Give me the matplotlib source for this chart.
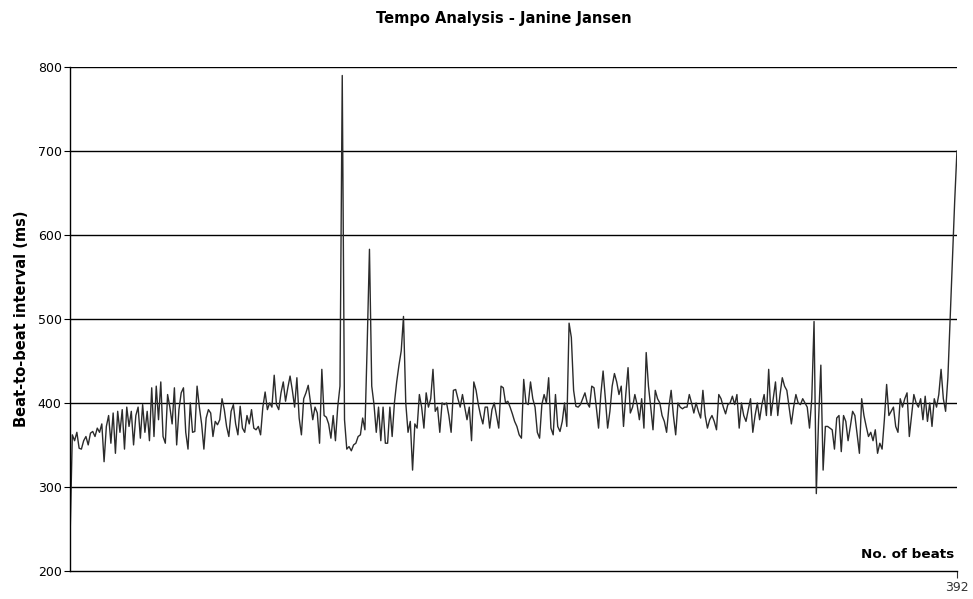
import matplotlib.pyplot as plt

# beat-to-beat intervals (ms), one value per beat
intervals = [
    240, 362, 355, 365, 346, 345, 355, 360, 350, 364, 366, 360, 370, 365, 375, 330, 372, 385, 352, 388,
    340, 390, 365, 392, 345, 395, 372, 390, 350, 385, 395, 358, 398, 365, 390, 355, 418, 360, 420, 380,
    425, 360, 352, 410, 395, 375, 418, 350, 392, 412, 418, 365, 345, 400, 365, 366, 420, 395, 375, 345,
    382, 392, 388, 360, 378, 374, 380, 405, 392, 372, 360, 390, 398, 375, 362, 396, 370, 365, 385, 375,
    392, 370, 368, 372, 362, 395, 413, 392, 400, 395, 433, 398, 392, 412, 425, 402, 418, 432, 415, 395,
    430, 382, 362, 405, 412, 421, 400, 380, 395, 388, 352, 440, 385, 383, 375, 358, 385, 355, 395, 420,
    790, 380, 345, 348, 343, 350, 352, 360, 362, 382, 368, 470, 583, 420, 398, 365, 395, 355, 395, 352,
    352, 395, 360, 400, 425, 445, 462, 503, 400, 365, 378, 320, 375, 370, 410, 395, 370, 412, 395, 405,
    440, 390, 395, 365, 400, 398, 400, 385, 365, 415, 416, 405, 395, 410, 395, 380, 395, 355, 425, 415,
    398, 385, 375, 395, 395, 370, 392, 400, 385, 370, 420, 418, 400, 402, 395, 387, 378, 372, 362, 358,
    428, 400, 398, 425, 405, 395, 365, 358, 398, 410, 400, 430, 370, 362, 410, 372, 366, 378, 400, 372,
    495, 478, 415, 396, 395, 398, 405, 412, 400, 395, 420, 418, 395, 370, 410, 438, 405, 370, 390, 420,
    435, 425, 410, 420, 372, 410, 442, 388, 395, 410, 398, 380, 405, 370, 460, 420, 395, 368, 415, 405,
    400, 385, 378, 365, 395, 415, 385, 362, 400, 395, 393, 395, 395, 410, 400, 388, 400, 390, 382, 415,
    385, 370, 380, 385, 378, 368, 410, 405, 395, 387, 398, 400, 408, 398, 410, 370, 400, 385, 378, 392,
    405, 365, 385, 400, 380, 398, 410, 385, 440, 385, 405, 425, 385, 410, 430, 420, 415, 395, 375, 395,
    410, 400, 398, 405, 400, 395, 370, 405, 497, 292, 380, 445, 320, 372, 372, 370, 368, 345, 382, 385,
    342, 385, 378, 355, 372, 390, 385, 362, 340, 405, 385, 372, 360, 365, 355, 368, 340, 352, 345, 380,
    422, 385, 390, 395, 372, 365, 405, 395, 405, 412, 360, 385, 410, 400, 395, 405, 380, 408, 378, 400,
    372, 405, 395, 410, 440, 405, 390, 430, 500, 570, 640, 700,
]
beats = list(range(1, len(intervals) + 1))

y_ticks = [200, 300, 400, 500, 600, 700, 800]

fig = plt.figure(figsize=(9.73, 5.99), dpi=100)
ax = fig.add_axes([0.072, 0.047, 0.9115, 0.841])

# horizontal grid drawn by hand so it sits under the trace
for v in y_ticks[1:]:
    ax.axhline(v, color='black', linewidth=1.0, zorder=1)

ax.plot(beats, intervals, color='#2b2b2b', linewidth=1.0, zorder=2)

ax.set_xlim(1, len(intervals))
ax.set_ylim(200, 800)
ax.set_yticks(y_ticks)
ax.set_xticks([len(intervals)])
ax.set_xticklabels([str(len(intervals))])
ax.tick_params(axis='y', labelsize=9, length=4, width=0.8, pad=2)
ax.tick_params(axis='x', labelsize=9, length=5, width=0.8, pad=2, colors='#333333')

for side in ['top', 'right']:
    ax.spines[side].set_visible(False)
ax.spines['left'].set_linewidth(1.0)
ax.spines['bottom'].set_linewidth(1.0)

ax.set_ylabel('Beat-to-beat interval (ms)', fontsize=10.5, fontweight='bold', labelpad=6)
ax.text(0.997, 0.02, 'No. of beats', transform=ax.transAxes, ha='right', va='bottom',
        fontsize=9.7, fontweight='bold')
fig.suptitle('Tempo Analysis - Janine Jansen', fontsize=10.5, fontweight='bold', x=0.518, y=0.982)

fig.savefig('out.png', dpi=100)
